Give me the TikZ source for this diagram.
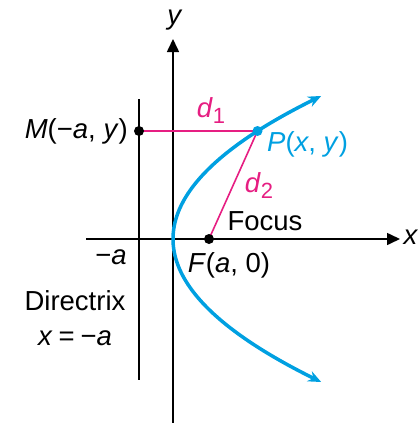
\documentclass[tikz,border=0pt]{standalone}
\usepackage{fontspec}
\setmainfont{Liberation Sans}
\usetikzlibrary{arrows.meta}
\definecolor{pcyan}{RGB}{0,160,225}
\definecolor{pmag}{RGB}{230,30,130}
\newcommand{\subnum}[1]{\raisebox{-6pt}{\fontsize{22}{22}\selectfont #1}}
\begin{document}
\begin{tikzpicture}[x=1pt,y=-1pt,
  lbl/.style={font=\fontsize{27.5}{31}\selectfont, inner sep=0pt},
  axisline/.style={line width=1.6pt, -{Triangle[length=13pt,width=12pt]}},
  distline/.style={pmag, line width=1.6pt},
  dotnode/.style={circle, fill, inner sep=0pt, minimum size=10pt}]
\useasboundingbox (0,0) rectangle (419,423);
% axes
\coordinate (xs) at (86,239);
\coordinate (xe) at (400,239);
\coordinate (ys) at (173,423);
\coordinate (ye) at (173,39);
\draw[axisline] (xs) -- (xe);
\draw[axisline] (ys) -- (ye);
\node[lbl] (xl) at (411,237) {\textit{x}};
\node[lbl] (yl) at (175,20) {\textit{y}};
% directrix
\coordinate (dt) at (139,99);
\coordinate (db) at (139,380);
\draw[line width=1.6pt] (dt) -- (db);
% parabola
\draw[pcyan, line width=3.5pt, {Stealth[length=13pt,width=11pt]}-{Stealth[length=13pt,width=11pt]}]
  plot[domain=-143:143, samples=80, smooth] ({173+(\x/138)*\x},{239-\x});
% points
\coordinate (Mc) at (139,131);
\coordinate (Pc) at (257.5,131);
\coordinate (Fc) at (209,239);
\draw[distline] (Mc) -- (Pc);
\draw[distline] (Pc) -- (Fc);
\node[dotnode] (M) at (Mc) {};
\node[dotnode, pcyan] (P) at (Pc) {};
\node[dotnode] (F) at (Fc) {};
% labels
\node[lbl, anchor=east] (Ml) at (128,131) {\textit{M}(−\textit{a}, \textit{y})};
\node[lbl, text=pmag] (d1) at (211,111) {\textit{d}\subnum{1}};
\node[lbl, anchor=west, text=pcyan] (Pl) at (267,144) {\textit{P}(\textit{x}, \textit{y})};
\node[lbl, text=pmag] (d2) at (259,186) {\textit{d}\subnum{2}};
\node[lbl] (focus) at (265,221) {Focus};
\node[lbl] (Fl) at (229,265) {\textit{F}(\textit{a}, 0)};
\node[lbl] (ma) at (111,257) {−\textit{a}};
\node[lbl] (dir) at (75,301) {Directrix};
\node[lbl] (deq) at (75,338) {\textit{x}\hspace{6pt}=\hspace{6pt}−\textit{a}};
\end{tikzpicture}
\end{document}
